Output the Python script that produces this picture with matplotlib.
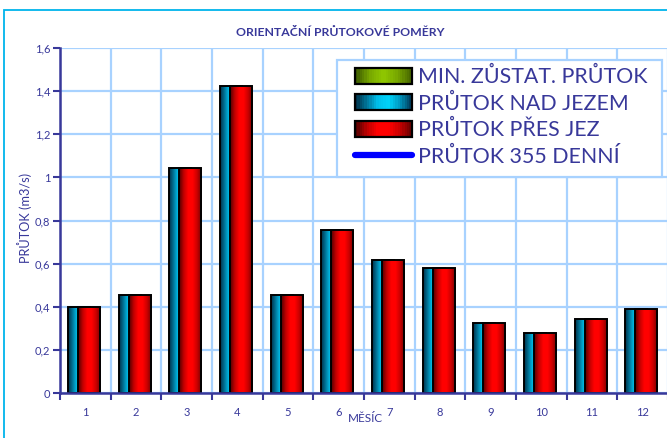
import numpy as np
import matplotlib.pyplot as plt
from matplotlib.patches import Rectangle
from matplotlib.lines import Line2D
from matplotlib.colors import LinearSegmentedColormap
from matplotlib.legend_handler import HandlerBase

plt.rcParams['font.family'] = ['Lato', 'DejaVu Sans']

months = ['1', '2', '3', '4', '5', '6', '7', '8', '9', '10', '11', '12']
flow_above_weir = [0.40, 0.455, 1.045, 1.425, 0.455, 0.755, 0.615, 0.58, 0.325, 0.28, 0.345, 0.39]
flow_over_weir = [0.40, 0.455, 1.045, 1.425, 0.455, 0.755, 0.615, 0.58, 0.325, 0.28, 0.345, 0.39]
y_ticks = [0, 0.2, 0.4, 0.6, 0.8, 1.0, 1.2, 1.4, 1.6]
y_labels = ['0', '0,2', '0,4', '0,6', '0,8', '1', '1,2', '1,4', '1,6']
legend_labels = ['MIN. ZŮSTAT. PRŮTOK', 'PRŮTOK NAD JEZEM', 'PRŮTOK PŘES JEZ', 'PRŮTOK 355 DENNÍ']

navy = '#38389a'
grid_c = '#a8d2ff'

cyan_cm = LinearSegmentedColormap.from_list('cyan', ['#003048', '#00789c', '#00c0ec', '#00d4fa', '#0098c0', '#004060'])
red_cm = LinearSegmentedColormap.from_list('red', ['#500000', '#c00000', '#ff0000', '#ff0000', '#c80000', '#700000'])
green_cm = LinearSegmentedColormap.from_list('green', ['#3c5a00', '#78a800', '#90c800', '#78a800', '#4a6a00'])


class GradientHandler(HandlerBase):
    # legend key as a bordered box filled with vertical colour stripes
    def __init__(self, cmap, n=24):
        super().__init__()
        self.cmap = cmap
        self.n = n

    def create_artists(self, legend, orig_handle, xdescent, ydescent, width, height, fontsize, trans):
        arts = []
        sw = width / self.n
        for i in range(self.n):
            arts.append(Rectangle((-xdescent + i * sw, -ydescent), sw * 1.05, height,
                                  facecolor=self.cmap(i / (self.n - 1)), edgecolor='none', transform=trans))
        arts.append(Rectangle((-xdescent, -ydescent), width, height, facecolor='none',
                              edgecolor='black', linewidth=1.6, transform=trans))
        return arts


W, H = 667, 438
fig = plt.figure(figsize=(W / 100, H / 100), dpi=100)
fig.patch.set_facecolor('white')

# outer chart border
fig.patches.append(Rectangle((4 / W, -0.1), 1.2, (H - 10) / H + 0.1, transform=fig.transFigure,
                             fill=False, edgecolor='#00b4ec', linewidth=1.3, zorder=0))

ax = fig.add_axes([60 / W, 45 / H, 608 / W, 345 / H])

x = np.arange(len(months))
width = 0.435


def gradient_bars(xs, heights, cmap, zorder):
    grad = np.linspace(0, 1, 64).reshape(1, -1)
    bars = ax.bar(xs, heights, width=width, facecolor='none', edgecolor='black',
                  linewidth=1.4, zorder=zorder + 0.5)
    for b in bars:
        x0, w, h = b.get_x(), b.get_width(), b.get_height()
        # light shadow on the right side
        ax.add_patch(Rectangle((x0 + 0.02, 0), w, h - 0.005, facecolor='#c0c0c0',
                               edgecolor='none', zorder=zorder - 0.2))
        im = ax.imshow(grad, cmap=cmap, aspect='auto', extent=(x0, x0 + w, 0, h),
                       zorder=zorder, interpolation='bilinear')
        im.set_clip_path(Rectangle((x0, 0), w, h, transform=ax.transData))
    return bars


gradient_bars(x - 0.125, flow_above_weir, cyan_cm, 3)
gradient_bars(x + 0.073, flow_over_weir, red_cm, 4)
ax.set_xlim(-0.5, 11.5)
ax.set_ylim(0, 1.6)
ax.set_aspect('auto')

# grid
ax.set_yticks(y_ticks)
ax.set_yticklabels(y_labels)
ax.set_xticks(np.arange(-0.5, 12, 1))
ax.set_xticklabels([])
ax.set_xticks(x, minor=True)
ax.set_xticklabels(months, minor=True)
ax.grid(True, which='major', color=grid_c, linewidth=1.6, zorder=0)
ax.set_axisbelow(True)

ax.tick_params(axis='both', which='major', direction='out', length=5, width=1.5,
               color=navy, labelcolor=navy, labelsize=8, pad=2)
ax.tick_params(axis='x', which='minor', length=0, labelcolor=navy, labelsize=8, pad=10)
for s in ['top', 'right']:
    ax.spines[s].set_visible(False)
for s in ['left', 'bottom']:
    ax.spines[s].set_color(navy)
    ax.spines[s].set_linewidth(1.8)
    ax.spines[s].set_zorder(6)

fig.text(25 / W, 1 - 218 / H, 'PRŮTOK (m3/s)', color=navy, fontsize=9.2, rotation=90,
         ha='center', va='center')
fig.text(365 / W, 1 - 418 / H, 'MĚSÍC', color=navy, fontsize=8.5, ha='center', va='center')
fig.text(340 / W, 1 - 33 / H, 'ORIENTAČNÍ PRŮTOKOVÉ POMĚRY', color=navy, fontsize=8.8,
         fontweight='bold', ha='center', va='center')

# legend box drawn separately, entries placed inside it
fig.patches.append(Rectangle((337 / W, 1 - 177 / H), 325 / W, 117 / H, transform=fig.transFigure,
                             facecolor='white', edgecolor=grid_c, linewidth=1.6, zorder=9))
h_green = Rectangle((0, 0), 1, 1)
h_cyan = Rectangle((0, 0), 1, 1)
h_red = Rectangle((0, 0), 1, 1)
h_line = Line2D([0], [0], color='#0000ff', linewidth=4.5, solid_capstyle='round')
leg = fig.legend([h_green, h_cyan, h_red, h_line], legend_labels, loc='upper left',
                 bbox_to_anchor=(355 / W, 1 - 67 / H),
                 handler_map={h_green: GradientHandler(green_cm), h_cyan: GradientHandler(cyan_cm),
                              h_red: GradientHandler(red_cm)},
                 fontsize=15.4, labelcolor=navy, frameon=False, handlelength=2.65, handleheight=0.8,
                 handletextpad=0.3, labelspacing=0.3, borderpad=0, borderaxespad=0)
leg.set_zorder(10)

fig.savefig('out.png', dpi=100)
